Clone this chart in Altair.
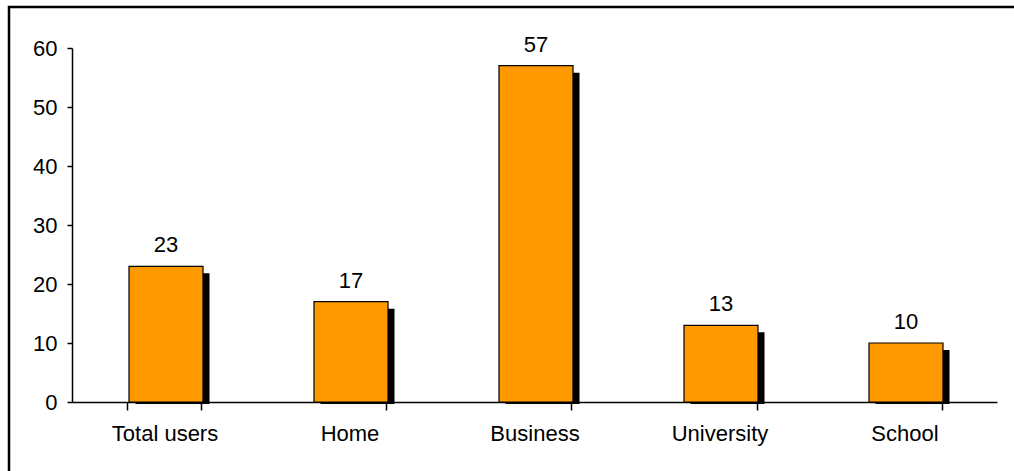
import altair as alt
import pandas as pd

categories = ["Total users", "Home", "Business", "University", "School"]
values = [23, 17, 57, 13, 10]

df = pd.DataFrame({"cat": categories, "val": values})

FONT = "Liberation Sans"
FS = 22

xenc = alt.X("cat:N", sort=categories, title=None,
             scale=alt.Scale(paddingInner=0.6, paddingOuter=0.3),
             axis=alt.Axis(labelAngle=0, tickBand="extent", tickSize=8, domainColor="black",
                           tickColor="black", labelColor="black", labelFont=FONT,
                           labelFontSize=FS, labelPadding=13, domainWidth=1.5, tickWidth=1.5))
yenc = alt.Y("val:Q", title=None,
             scale=alt.Scale(domain=[0, 60], nice=False),
             axis=alt.Axis(values=[0, 10, 20, 30, 40, 50, 60], tickSize=5, grid=False,
                           domainColor="black", tickColor="black", labelColor="black",
                           labelFont=FONT, labelFontSize=FS, labelPadding=10,
                           domainWidth=1.5, tickWidth=1.5))

base = alt.Chart(df)

shadow = base.mark_bar(color="black", xOffset=8, x2Offset=8, yOffset=7, y2Offset=2).encode(
    x=xenc, y=yenc, y2=alt.Y2(datum=0))
bars = base.mark_bar(color="#FF9900", stroke="black", strokeWidth=1.2, xOffset=1.5, x2Offset=1.5).encode(x=xenc, y=yenc)
labels = base.mark_text(baseline="alphabetic", dy=-14, xOffset=1.5, font=FONT, fontSize=FS, color="black").encode(
    x=alt.X("cat:N", sort=categories), y="val:Q", text="val:Q")

border = alt.Chart(pd.DataFrame({"a": [0]})).mark_rect(
    fill=None, stroke="black", strokeWidth=2.5).encode(
    x=alt.value(-63), x2=alt.value(960), y=alt.value(-41), y2=alt.value(440))

chart = alt.layer(border, shadow, bars, labels).properties(
    width=925, height=354,
    autosize=alt.AutoSizeParams(type="none"),
    padding={"left": 72, "top": 48, "right": 17, "bottom": 69},
    background="white",
).configure_view(stroke=None)

chart.save("out.html", embed_options={"renderer": "svg", "actions": False})
